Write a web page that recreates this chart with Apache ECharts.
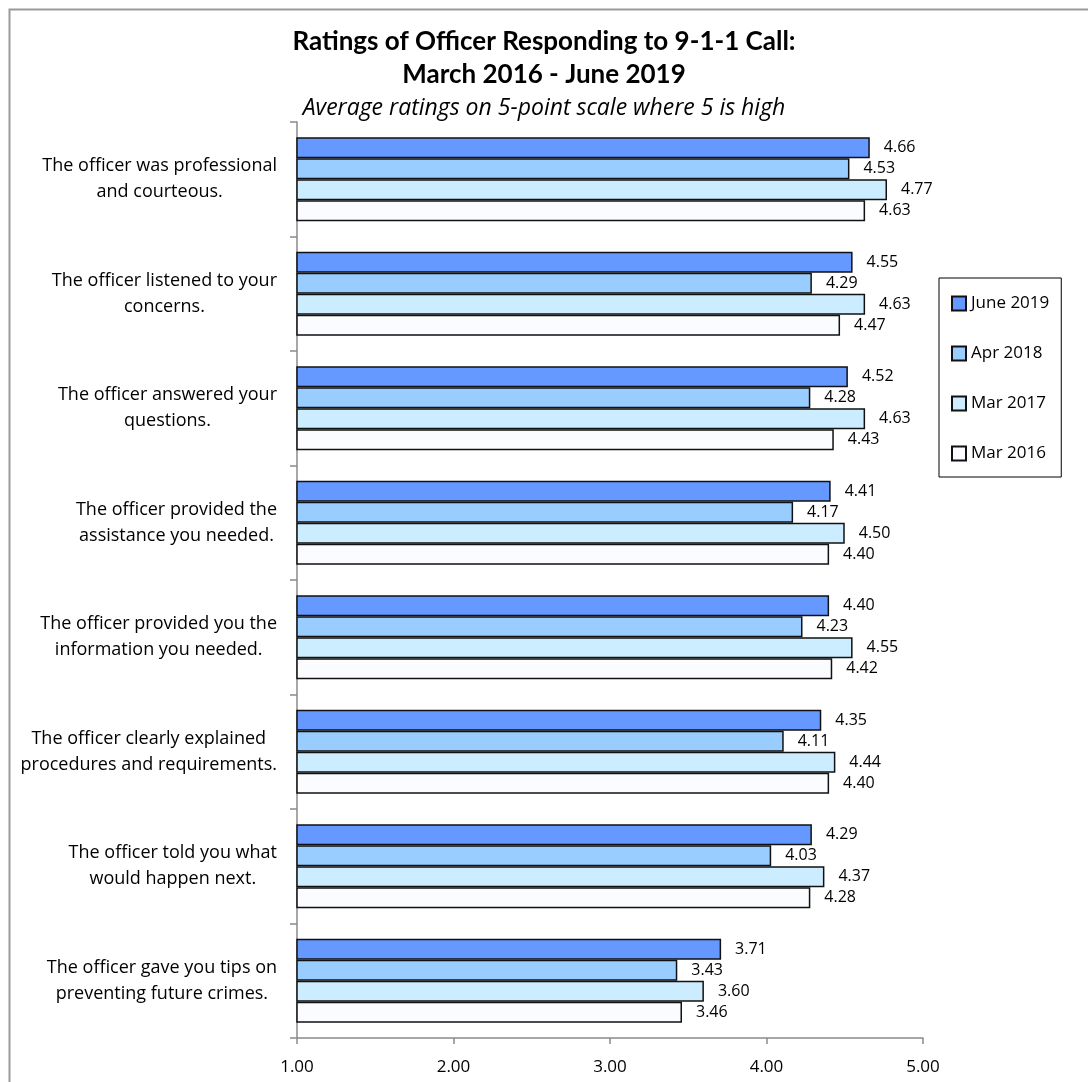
<!DOCTYPE html>
<html>
<head>
<meta charset="utf-8">
<script src="https://cdn.jsdelivr.net/npm/echarts@6/dist/echarts.min.js"></script>
<style>
html,body{margin:0;padding:0;background:#fff;}
#chart{width:1088px;height:1082px;}
</style>
</head>
<body>
<div id="chart"></div>
<script>
const categories = [
  "The officer was professional\nand courteous.",
  "The officer listened to your\nconcerns.",
  "The officer answered your\nquestions.",
  "The officer provided the\nassistance you needed.",
  "The officer provided you the\ninformation you needed.",
  "The officer clearly explained\nprocedures and requirements.",
  "The officer told you what\nwould happen next.",
  "The officer gave you tips on\npreventing future crimes."
];
const seriesNames = ["June 2019", "Apr 2018", "Mar 2017", "Mar 2016"];
const june2019 = [4.66, 4.55, 4.52, 4.41, 4.40, 4.35, 4.29, 3.71];
const apr2018  = [4.53, 4.29, 4.28, 4.17, 4.23, 4.11, 4.03, 3.43];
const mar2017  = [4.77, 4.63, 4.63, 4.50, 4.55, 4.44, 4.37, 3.60];
const mar2016  = [4.63, 4.47, 4.43, 4.40, 4.42, 4.40, 4.28, 3.46];
const xTicks = [1, 2, 3, 4, 5];

const colors = ["#6699FF", "#99CCFF", "#CCECFF", "#FAFCFF"];
const allData = [june2019, apr2018, mar2017, mar2016];
const TFONT = "Lato";
const FONT = "Open Sans";

const chart = echarts.init(document.getElementById('chart'));
const option = {
  animation: false,
  backgroundColor: '#fff',
  graphic: [{
    type: 'rect', left: 7, top: 7, z: -10,
    shape: {width: 1100, height: 1100},
    style: {fill: 'none', stroke: '#9a9a9a', lineWidth: 2}
  }],
  title: [{
    text: "Ratings of Officer Responding to 9-1-1 Call:\nMarch 2016 - June 2019",
    left: 'center', top: 20,
    textStyle: {fontFamily: TFONT, fontWeight: 'bold', fontSize: 26, lineHeight: 33, color: '#000'}
  }, {
    text: "Average ratings on 5-point scale where 5 is high",
    left: 'center', top: 92,
    textStyle: {fontFamily: FONT, fontStyle: 'italic', fontWeight: 'normal', fontSize: 23, color: '#000'}
  }],
  legend: {
    orient: 'vertical',
    left: 939, top: 278,
    padding: [17, 12, 15, 12],
    itemGap: 33,
    itemWidth: 14, itemHeight: 14,
    icon: 'rect',
    borderColor: '#000', borderWidth: 1,
    textStyle: {fontFamily: FONT, fontSize: 17, lineHeight: 17, color: '#000'},
    data: seriesNames
  },
  grid: {left: 297, right: 165, top: 122, bottom: 44, containLabel: false},
  xAxis: {
    type: 'value', min: 1, max: 5, interval: 1,
    axisLine: {show: true, lineStyle: {color: '#8a8a8a', width: 1.5}},
    axisTick: {show: true, length: 6, lineStyle: {color: '#8a8a8a', width: 1.5}},
    splitLine: {show: false},
    axisLabel: {
      margin: 21, color: '#000', fontFamily: FONT, fontSize: 17,
      customValues: xTicks,
      formatter: v => v.toFixed(2)
    }
  },
  yAxis: {
    type: 'category', inverse: true, data: categories,
    axisLine: {show: true, lineStyle: {color: '#8a8a8a', width: 1.5}},
    axisTick: {show: true, length: 7, lineStyle: {color: '#8a8a8a', width: 1.5}},
    axisLabel: {
      margin: 20, color: '#000', fontFamily: FONT, fontSize: 18,
      formatter: v => v.split('\n').map(l => '{c|' + l + '}').join('\n'),
      rich: {c: {align: 'center', fontFamily: FONT, fontSize: 18, lineHeight: 26, color: '#000'}}
    }
  },
  series: seriesNames.map((name, i) => ({
    name: name,
    type: 'bar',
    data: allData[i],
    barWidth: 21,
    barGap: '0%',
    itemStyle: {color: colors[i], borderColor: '#111', borderWidth: 1.5},
    label: {
      show: true, position: 'right', distance: 14,
      fontFamily: FONT, fontSize: 16, color: '#000',
      formatter: p => p.value.toFixed(2)
    }
  }))
};
chart.setOption(option);
</script>
</body>
</html>
